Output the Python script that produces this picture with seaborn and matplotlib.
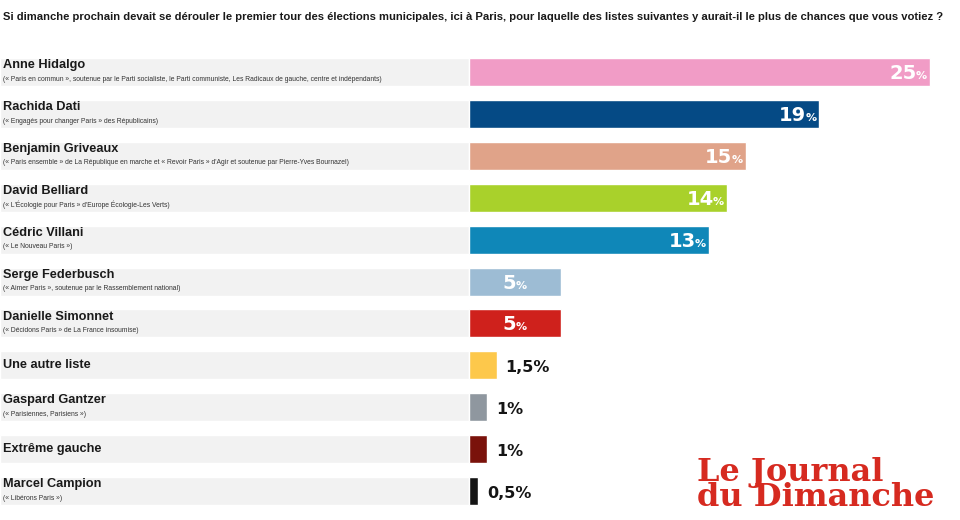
import numpy as np
import matplotlib
matplotlib.use("Agg")
import matplotlib.pyplot as plt
import seaborn as sns

# data
names = ["Anne Hidalgo", "Rachida Dati", "Benjamin Griveaux", "David Belliard",
         "Cédric Villani", "Serge Federbusch", "Danielle Simonnet", "Une autre liste",
         "Gaspard Gantzer", "Extrême gauche", "Marcel Campion"]
subtitles = [
    "(« Paris en commun », soutenue par le Parti socialiste, le Parti communiste, Les Radicaux de gauche, centre et indépendants)",
    "(« Engagés pour changer Paris » des Républicains)",
    "(« Paris ensemble » de La République en marche et « Revoir Paris » d'Agir et soutenue par Pierre-Yves Bournazel)",
    "(« L'Écologie pour Paris » d'Europe Écologie-Les Verts)",
    "(« Le Nouveau Paris »)",
    "(« Aimer Paris », soutenue par le Rassemblement national)",
    "(« Décidons Paris » de La France insoumise)",
    "",
    "(« Parisiennes, Parisiens »)",
    "",
    "(« Libérons Paris »)",
]
values = [25, 19, 15, 14, 13, 5, 5, 1.5, 1, 1, 0.5]
value_labels = ["25", "19", "15", "14", "13", "5", "5", "1,5", "1", "1", "0,5"]
colors = ["#f19cc6", "#054a85", "#e0a389", "#a9d12b", "#0f87b8", "#9dbcd4",
          "#cf211c", "#fdc84b", "#8f979f", "#7a120b", "#141414"]

title = ("Si dimanche prochain devait se dérouler le premier tour des élections municipales, "
         "ici à Paris, pour laquelle des listes suivantes y aurait-il le plus de chances que vous votiez ?")

W, H = 960, 520
x0_px = 469            # pixel where 0 % sits
px_per_pct = (930 - x0_px) / 25
y0_px = 72             # centre of first row
row_px = 41.9

sns.set_theme(style="white")
plt.rcParams["font.family"] = ["Liberation Sans", "DejaVu Sans"]

fig = plt.figure(figsize=(W / 100, H / 100), dpi=100)
ax = fig.add_axes([0, 0, 1, 1])

n = len(names)
bar_h = 28 / row_px
xmin = -x0_px / px_per_pct
xmax = (W - x0_px) / px_per_pct

# grey bands behind the labels
ax.barh(np.arange(n), -xmin, left=xmin, height=bar_h, color="#f2f2f2", zorder=0.5)

sns.barplot(x=values, y=names, hue=names, palette=colors, legend=False,
            orient="h", width=bar_h, saturation=1, ax=ax, zorder=2)

ax.set_xlim(xmin, xmax)
ax.set_ylim((H - y0_px) / row_px, -y0_px / row_px)
ax.axis("off")

trans = ax.get_yaxis_transform()
for i, (nm, sub) in enumerate(zip(names, subtitles)):
    if sub:
        ax.text(3 / W, i - 0.16, nm, transform=trans, ha="left", va="center",
                fontsize=9.2, fontweight="bold", color="#1a1a1a")
        ax.text(3 / W, i + 0.17, sub, transform=trans, ha="left", va="center",
                fontsize=4.9, color="#333333")
    else:
        ax.text(3 / W, i, nm, transform=trans, ha="left", va="center",
                fontsize=9.2, fontweight="bold", color="#1a1a1a")

# value labels
renderer = fig.canvas.get_renderer()
num_font = ["DejaVu Sans"]
base = 7 / row_px
for i, (v, s) in enumerate(zip(values, value_labels)):
    if v >= 5:
        num = ax.annotate(s, xy=(v, i + base), xytext=(0, 0), textcoords="offset pixels",
                          ha="left", va="baseline", fontsize=14, fontweight="bold",
                          color="white", family=num_font, zorder=3)
        pct = ax.annotate("%", xy=(v, i + base), xytext=(0, 0), textcoords="offset pixels",
                          ha="left", va="baseline", fontsize=8, fontweight="bold",
                          color="white", family=num_font, zorder=3)
        wn = num.get_window_extent(renderer).width
        wp = pct.get_window_extent(renderer).width
        if v >= 10:
            start = -3 - wp - wn + 1
            num.xyann = (start, 0)
            pct.xyann = (start + wn - 1, 0)
        else:
            num.xy = (v / 2, i + base)
            pct.xy = (v / 2, i + base)
            start = -(wn + wp) / 2
            num.xyann = (start, 0)
            pct.xyann = (start + wn - 1, 0)
    else:
        ax.annotate(s + "%", xy=(v, i + base), xytext=(9, 0), textcoords="offset pixels",
                    ha="left", va="baseline", fontsize=11.5, fontweight="bold",
                    color="#151515", family=num_font, zorder=3)

fig.text(3 / W, 1 - 17 / H, title, ha="left", va="center", fontsize=8.1,
         fontweight="bold", color="#1a1a1a")

# newspaper logo
fig.text(697 / W, 1 - 506 / H, "Le Journal\ndu Dimanche", ha="left", va="baseline",
         fontsize=23, fontweight="bold", color="#d62a20", family=["DejaVu Serif"],
         linespacing=0.76)

fig.savefig("out.png", dpi=100, facecolor="white")
